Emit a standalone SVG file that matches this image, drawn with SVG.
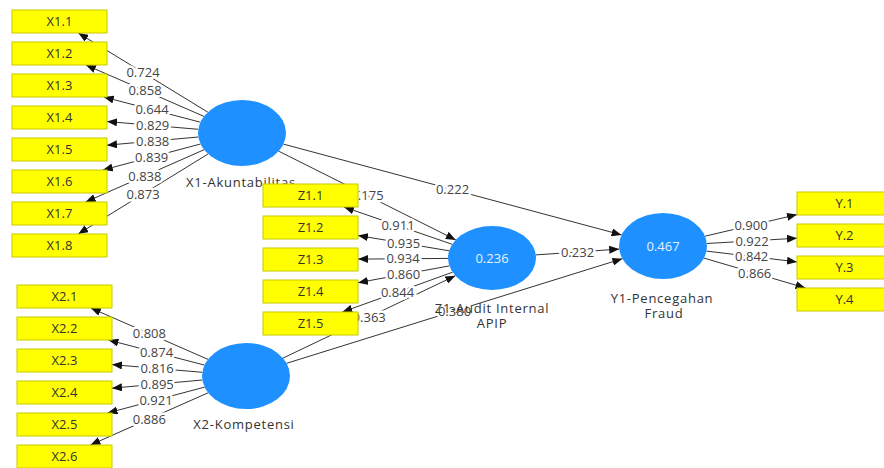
<svg xmlns="http://www.w3.org/2000/svg" width="884" height="468" viewBox="0 0 884 468">
<defs>
<marker id="ah" viewBox="0 0 10 8" refX="10" refY="4" markerWidth="10" markerHeight="8" markerUnits="userSpaceOnUse" orient="auto">
<path d="M0,0 L10,4 L0,8 z" fill="#111"/>
</marker>
<style>
.c{stroke:#333;stroke-width:1;fill:none;marker-end:url(#ah)}
.lb{font-family:"Open Sans","Noto Sans",sans-serif;font-size:13px;fill:#444;text-anchor:middle;stroke:#fff;stroke-width:5;stroke-linejoin:round;paint-order:stroke}
.bx{fill:#ffff00;stroke:#c9c900;stroke-width:1}
.bt{font-family:"Open Sans","Noto Sans",sans-serif;font-size:13px;fill:#333;text-anchor:middle}
.lv{fill:#1e90ff}
.lt{font-family:"Open Sans","Noto Sans",sans-serif;font-size:13px;fill:#333;text-anchor:middle;letter-spacing:0.75px}
.it{font-family:"Open Sans","Noto Sans",sans-serif;font-size:13px;fill:#e6f2ff;text-anchor:middle}
</style>
</defs>
<rect width="884" height="468" fill="#fff"/>
<g id="connectors">
<line class="c" x1="207.9" y1="112.2" x2="78.3" y2="33"/>
<line class="c" x1="204" y1="116.4" x2="85.9" y2="65"/>
<line class="c" x1="200.4" y1="122.2" x2="103.7" y2="97"/>
<line class="c" x1="198.3" y1="129.3" x2="107" y2="121.5"/>
<line class="c" x1="198.3" y1="137" x2="107" y2="145.2"/>
<line class="c" x1="200.5" y1="144" x2="102.8" y2="170"/>
<line class="c" x1="204.1" y1="149.7" x2="85.6" y2="202"/>
<line class="c" x1="208" y1="154" x2="78.2" y2="234"/>
<line class="c" x1="208" y1="359.4" x2="90.8" y2="308"/>
<line class="c" x1="204.5" y1="365.1" x2="108.4" y2="340"/>
<line class="c" x1="202.3" y1="372.3" x2="112" y2="364.6"/>
<line class="c" x1="202.3" y1="380" x2="112" y2="388.2"/>
<line class="c" x1="204.6" y1="387.1" x2="107.5" y2="413"/>
<line class="c" x1="208.1" y1="392.8" x2="90.4" y2="445"/>
<line class="c" x1="452.2" y1="244.3" x2="343.9" y2="207"/>
<line class="c" x1="449.1" y1="250.8" x2="358" y2="235.5"/>
<line class="c" x1="448" y1="258.4" x2="358" y2="259.1"/>
<line class="c" x1="449.3" y1="265.9" x2="358" y2="282.7"/>
<line class="c" x1="452.6" y1="272.2" x2="342.4" y2="312"/>
<line class="c" x1="705" y1="236.2" x2="797" y2="214.6"/>
<line class="c" x1="706.9" y1="243.5" x2="797" y2="238.2"/>
<line class="c" x1="706.5" y1="251.1" x2="797" y2="261.9"/>
<line class="c" x1="704" y1="258.1" x2="805.5" y2="288"/>
<line class="c" x1="278.7" y1="151.2" x2="455.8" y2="239.9"/>
<line class="c" x1="283.4" y1="144.1" x2="621.6" y2="234.9"/>
<line class="c" x1="535.8" y1="254.9" x2="619.2" y2="249.1"/>
<line class="c" x1="283" y1="358.1" x2="455.4" y2="275.7"/>
<line class="c" x1="286.6" y1="363.3" x2="622.4" y2="258.7"/>
<g id="loading-labels">
<text class="lb" x="143" y="77.2">0.724</text>
<text class="lb" x="145" y="95.3">0.858</text>
<text class="lb" x="152" y="114.2">0.644</text>
<text class="lb" x="152.7" y="130">0.829</text>
<text class="lb" x="152.7" y="145.7">0.838</text>
<text class="lb" x="151.7" y="161.6">0.839</text>
<text class="lb" x="144.9" y="180.5">0.838</text>
<text class="lb" x="143.1" y="198.6">0.873</text>
<text class="lb" x="149.4" y="338.3">0.808</text>
<text class="lb" x="156.5" y="357.1">0.874</text>
<text class="lb" x="157.2" y="373.1">0.816</text>
<text class="lb" x="157.2" y="388.7">0.895</text>
<text class="lb" x="156" y="404.6">0.921</text>
<text class="lb" x="149.3" y="423.5">0.886</text>
<text class="lb" x="398" y="230.2">0.911</text>
<text class="lb" x="403.5" y="247.8">0.935</text>
<text class="lb" x="403" y="263.3">0.934</text>
<text class="lb" x="403.6" y="278.9">0.860</text>
<text class="lb" x="397.5" y="296.7">0.844</text>
<text class="lb" x="751" y="230">0.900</text>
<text class="lb" x="752" y="245.5">0.922</text>
<text class="lb" x="751.7" y="261.1">0.842</text>
<text class="lb" x="754.7" y="277.6">0.866</text>
<text class="lb" x="367" y="200.1">0.175</text>
<text class="lb" x="452.5" y="194.1">0.222</text>
<text class="lb" x="577.5" y="256.6">0.232</text>
<text class="lb" x="369.2" y="321.5">0.363</text>
<text class="lb" x="454.5" y="315.6">0.380</text>
</g>
</g>
<g id="X1">
<ellipse class="lv" cx="242" cy="133" rx="44" ry="33"/>
<text class="lt" x="241" y="187">X1-Akuntabilitas</text>
</g>
<g id="X2">
<ellipse class="lv" cx="246" cy="376" rx="44" ry="33"/>
<text class="lt" x="244" y="429">X2-Kompetensi</text>
</g>
<g id="Z1">
<ellipse class="lv" cx="492" cy="258" rx="44" ry="32"/>
<text class="it" x="492" y="262.6">0.236</text>
<text class="lt" x="492" y="313">Z1-Audit Internal</text>
<text class="lt" x="492" y="328">APIP</text>
</g>
<g id="Y1">
<ellipse class="lv" cx="663" cy="246" rx="44" ry="33"/>
<text class="it" x="663" y="250.6">0.467</text>
<text class="lt" x="662" y="303">Y1-Pencegahan</text>
<text class="lt" x="664" y="318">Fraud</text>
</g>
<g id="X1.1"><rect class="bx" x="12" y="10" width="95" height="23"/><text class="bt" x="59.5" y="26">X1.1</text></g>
<g id="X1.2"><rect class="bx" x="12" y="42" width="95" height="23"/><text class="bt" x="59.5" y="58">X1.2</text></g>
<g id="X1.3"><rect class="bx" x="12" y="74" width="95" height="23"/><text class="bt" x="59.5" y="90">X1.3</text></g>
<g id="X1.4"><rect class="bx" x="12" y="106" width="95" height="23"/><text class="bt" x="59.5" y="122">X1.4</text></g>
<g id="X1.5"><rect class="bx" x="12" y="138" width="95" height="23"/><text class="bt" x="59.5" y="154">X1.5</text></g>
<g id="X1.6"><rect class="bx" x="12" y="170" width="95" height="23"/><text class="bt" x="59.5" y="186">X1.6</text></g>
<g id="X1.7"><rect class="bx" x="12" y="202" width="95" height="23"/><text class="bt" x="59.5" y="218">X1.7</text></g>
<g id="X1.8"><rect class="bx" x="12" y="234" width="95" height="23"/><text class="bt" x="59.5" y="250">X1.8</text></g>
<g id="X2.1"><rect class="bx" x="17" y="285" width="95" height="23"/><text class="bt" x="64.5" y="301">X2.1</text></g>
<g id="X2.2"><rect class="bx" x="17" y="317" width="95" height="23"/><text class="bt" x="64.5" y="333">X2.2</text></g>
<g id="X2.3"><rect class="bx" x="17" y="349" width="95" height="23"/><text class="bt" x="64.5" y="365">X2.3</text></g>
<g id="X2.4"><rect class="bx" x="17" y="381" width="95" height="23"/><text class="bt" x="64.5" y="397">X2.4</text></g>
<g id="X2.5"><rect class="bx" x="17" y="413" width="95" height="23"/><text class="bt" x="64.5" y="429">X2.5</text></g>
<g id="X2.6"><rect class="bx" x="17" y="445" width="95" height="23"/><text class="bt" x="64.5" y="461">X2.6</text></g>
<g id="Z1.1"><rect class="bx" x="263" y="184" width="95" height="23"/><text class="bt" x="310.5" y="200">Z1.1</text></g>
<g id="Z1.2"><rect class="bx" x="263" y="216" width="95" height="23"/><text class="bt" x="310.5" y="232">Z1.2</text></g>
<g id="Z1.3"><rect class="bx" x="263" y="248" width="95" height="23"/><text class="bt" x="310.5" y="264">Z1.3</text></g>
<g id="Z1.4"><rect class="bx" x="263" y="280" width="95" height="23"/><text class="bt" x="310.5" y="296">Z1.4</text></g>
<g id="Z1.5"><rect class="bx" x="263" y="312" width="95" height="23"/><text class="bt" x="310.5" y="328">Z1.5</text></g>
<g id="Y.1"><rect class="bx" x="797" y="192" width="95" height="23"/><text class="bt" x="844.5" y="208">Y.1</text></g>
<g id="Y.2"><rect class="bx" x="797" y="224" width="95" height="23"/><text class="bt" x="844.5" y="240">Y.2</text></g>
<g id="Y.3"><rect class="bx" x="797" y="256" width="95" height="23"/><text class="bt" x="844.5" y="272">Y.3</text></g>
<g id="Y.4"><rect class="bx" x="797" y="288" width="95" height="23"/><text class="bt" x="844.5" y="304">Y.4</text></g>
</svg>
